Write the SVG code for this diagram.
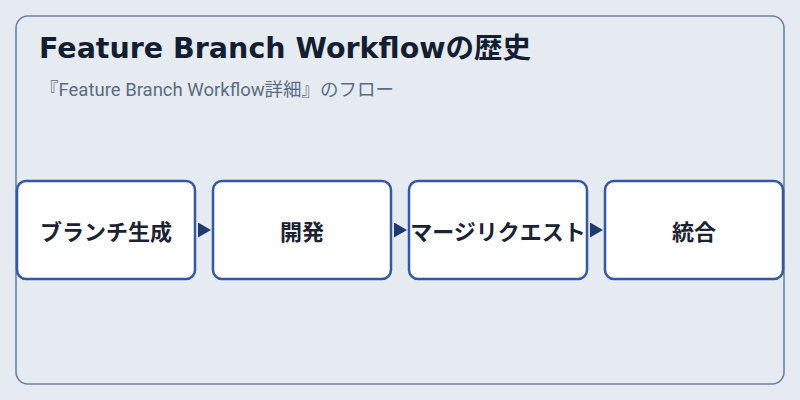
<svg xmlns="http://www.w3.org/2000/svg" width="800" height="400" viewBox="0 0 800 400">
<style>
.frame{fill:#e6ebf1;stroke:#6b80ab;stroke-width:1.6}
.title{font-family:"DejaVu Sans","Noto Sans CJK JP",sans-serif;font-weight:700;font-size:28.5px;fill:#141e33}
.sub{font-family:"Roboto","Noto Sans CJK JP",sans-serif;font-size:18.5px;fill:#5a6b85}
.box{fill:#ffffff;stroke:#3358a0;stroke-width:2.5}
.lbl{font-family:"Noto Sans CJK JP",sans-serif;font-weight:700;font-size:22px;fill:#1a2233;text-anchor:middle;dominant-baseline:central}
.conn{stroke:#1e3a6e;stroke-width:1;fill:none}
</style>
<defs>
<marker id="arr" markerWidth="13" markerHeight="15" refX="13" refY="7.5" orient="auto" markerUnits="userSpaceOnUse">
<path d="M0,0 L13,7.5 L0,15 Z" fill="#1e3a6e"/>
</marker>
</defs>
<rect width="800" height="400" fill="#e6ebf1"/>
<rect class="frame" x="16" y="16" width="768" height="368" rx="12"/>
<text class="title" x="39" y="58">Feature Branch Workflowの歴史</text>
<text class="sub" x="40" y="96">『Feature Branch Workflow詳細』のフロー</text>
<g id="connectors">
<line class="conn" x1="198" y1="230" x2="211" y2="230" stroke-opacity="0" marker-end="url(#arr)"/>
<line class="conn" x1="394" y1="230" x2="407" y2="230" stroke-opacity="0" marker-end="url(#arr)"/>
<line class="conn" x1="590" y1="230" x2="603" y2="230" stroke-opacity="0" marker-end="url(#arr)"/>
</g>
<g id="node1"><rect class="box" x="17" y="181" width="178" height="98" rx="9"/><text class="lbl" x="106" y="230">ブランチ生成</text></g>
<g id="node2"><rect class="box" x="213" y="181" width="178" height="98" rx="9"/><text class="lbl" x="302" y="230">開発</text></g>
<g id="node3"><rect class="box" x="409" y="181" width="178" height="98" rx="9"/><text class="lbl" x="498" y="230">マージリクエスト</text></g>
<g id="node4"><rect class="box" x="605" y="181" width="178" height="98" rx="9"/><text class="lbl" x="694" y="230">統合</text></g>
</svg>
